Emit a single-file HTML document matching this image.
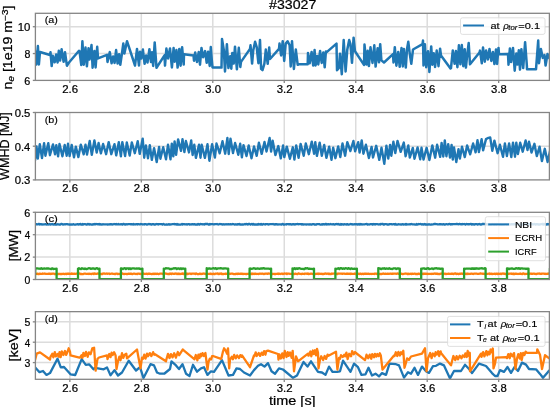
<!DOCTYPE html>
<html><head><meta charset="utf-8"><style>
html,body{margin:0;padding:0;width:550px;height:407px;overflow:hidden;background:#fff;}
svg text{font-family:"Liberation Sans", sans-serif;stroke:#000;stroke-width:0.22px;} svg text.sm{stroke-width:0.15px;}
</style></head><body>
<svg width="550" height="407" viewBox="0 0 550 407" style="position:absolute;left:0;top:0;will-change:transform"><rect width="550" height="407" fill="#fff"/><text x="269.04" y="9.30" font-size="12.60" textLength="47.26" lengthAdjust="spacingAndGlyphs" fill="#000">#33027</text><line x1="69.85" y1="13.3" x2="69.85" y2="80.4" stroke="#dcdcdc" stroke-width="1.5"/><line x1="141.32" y1="13.3" x2="141.32" y2="80.4" stroke="#dcdcdc" stroke-width="1.5"/><line x1="212.79" y1="13.3" x2="212.79" y2="80.4" stroke="#dcdcdc" stroke-width="1.5"/><line x1="284.26" y1="13.3" x2="284.26" y2="80.4" stroke="#dcdcdc" stroke-width="1.5"/><line x1="355.73" y1="13.3" x2="355.73" y2="80.4" stroke="#dcdcdc" stroke-width="1.5"/><line x1="427.20" y1="13.3" x2="427.20" y2="80.4" stroke="#dcdcdc" stroke-width="1.5"/><line x1="498.67" y1="13.3" x2="498.67" y2="80.4" stroke="#dcdcdc" stroke-width="1.5"/><line x1="35.4" y1="53.56" x2="549.4" y2="53.56" stroke="#dcdcdc" stroke-width="1.5"/><line x1="35.4" y1="26.72" x2="549.4" y2="26.72" stroke="#dcdcdc" stroke-width="1.5"/><clipPath id="c0"><rect x="35" y="13.3" width="514.5" height="67.10000000000001"/></clipPath><path d="M35.0,50.7 L36.3,64.6 L37.9,46.0 L38.9,64.5 L40.0,52.0 L50.0,55.0 L50.5,52.3 L51.7,66.1 L52.8,55.8 L54.7,62.3 L56.1,54.6 L57.6,62.4 L58.8,50.8 L60.1,60.5 L61.6,49.3 L63.6,61.8 L65.0,52.2 L66.9,65.7 L69.0,62.5 L79.0,50.7 L79.5,51.0 L81.3,65.0 L82.4,41.2 L83.8,64.7 L85.5,47.6 L86.9,66.3 L88.5,48.3 L89.5,59.6 L91.5,45.1 L92.6,67.7 L94.4,50.9 L95.6,67.5 L97.2,46.8 L98.0,58.4 L107.0,54.8 L107.5,62.0 L108.0,59.6 L109.8,52.1 L111.6,63.2 L113.1,56.5 L114.6,62.9 L116.1,50.1 L117.6,63.5 L119.1,54.2 L120.3,64.8 L122.1,52.5 L123.3,43.6 L124.4,53.5 L127.0,41.2 L135.0,65.5 L137.0,49.0 L139.0,65.5 L140.0,51.7 L141.3,58.5 L142.9,49.6 L144.6,63.8 L146.1,55.5 L147.5,62.5 L149.4,49.2 L151.0,62.0 L152.0,52.3 L153.2,65.9 L154.7,42.4 L156.5,67.8 L164.5,55.4 L165.0,65.6 L166.4,48.6 L168.0,58.4 L170.0,48.5 L171.9,67.4 L173.6,48.1 L174.6,61.7 L176.4,50.1 L177.6,67.6 L179.3,48.9 L180.6,65.7 L182.1,47.2 L183.7,64.6 L184.0,54.2 L193.5,55.4 L194.0,60.7 L195.2,52.5 L197.0,61.9 L198.7,52.1 L200.0,64.7 L201.5,47.9 L203.2,57.2 L205.1,51.1 L206.7,62.8 L208.1,51.7 L209.7,65.9 L210.8,47.1 L211.8,60.0 L212.5,67.4 L221.5,67.6 L222.0,38.9 L223.8,50.0 L225.0,71.4 L226.9,44.2 L228.4,68.0 L230.2,56.2 L231.3,68.7 L232.3,53.0 L233.7,63.6 L235.0,46.7 L236.9,69.3 L238.8,47.8 L240.3,67.0 L241.0,61.9 L250.0,48.9 L250.5,45.3 L252.1,63.6 L253.2,50.6 L255.1,41.8 L256.7,47.2 L258.4,63.2 L260.0,40.0 L261.1,68.9 L262.5,70.2 L264.4,63.6 L265.8,49.6 L267.7,63.8 L269.2,47.6 L270.0,59.0 L279.0,48.9 L279.5,43.5 L281.1,55.4 L282.7,41.2 L284.2,60.9 L285.7,43.6 L287.6,41.2 L289.6,45.3 L290.7,66.4 L292.0,41.2 L293.9,69.0 L295.8,49.5 L297.7,64.8 L298.6,64.3 L307.7,64.3 L308.0,52.9 L309.7,63.2 L311.6,51.9 L313.2,65.6 L314.6,50.1 L315.6,65.4 L317.2,56.1 L318.3,64.4 L320.1,51.0 L321.7,62.9 L323.3,52.5 L324.7,67.3 L325.9,51.4 L327.0,51.9 L336.5,43.6 L337.0,70.2 L338.9,67.9 L340.0,53.7 L341.8,74.3 L343.7,40.0 L345.6,71.4 L347.3,49.4 L349.2,40.0 L350.4,43.9 L352.0,62.8 L353.6,37.7 L355.0,51.3 L364.0,64.9 L364.5,44.5 L366.5,64.6 L367.7,50.8 L368.9,66.1 L370.5,47.3 L372.5,62.9 L374.3,45.3 L375.6,66.6 L377.6,48.3 L379.0,62.3 L380.2,44.2 L381.4,60.4 L384.0,62.5 L393.0,54.2 L393.5,62.5 L394.8,47.2 L396.4,65.7 L398.2,51.9 L399.7,66.8 L401.5,48.0 L402.8,66.5 L403.9,49.1 L405.8,67.6 L407.0,49.2 L408.3,41.8 L409.8,54.1 L411.3,63.8 L413.0,49.5 L422.5,44.2 L423.0,40.6 L423.5,65.5 L424.9,44.2 L426.2,67.2 L428.0,51.2 L429.4,72.0 L431.2,46.4 L432.4,64.7 L433.7,53.2 L435.1,67.0 L436.7,50.6 L438.5,66.2 L440.1,48.7 L441.0,55.4 L450.5,68.4 L451.0,68.0 L452.8,50.4 L454.6,63.8 L455.9,51.1 L457.4,67.2 L458.9,45.3 L460.4,64.3 L461.8,45.1 L463.3,66.2 L464.7,49.2 L465.9,67.6 L467.1,55.9 L468.7,43.0 L470.0,64.3 L479.5,52.5 L480.0,50.6 L481.8,63.3 L483.0,47.5 L484.8,61.7 L486.1,50.5 L487.9,59.4 L489.5,49.0 L491.3,60.9 L492.9,52.0 L494.4,64.0 L496.0,49.5 L497.1,63.9 L498.5,47.9 L499.0,54.2 L508.0,54.0 L508.5,64.7 L509.9,48.4 L511.1,62.1 L513.0,47.9 L514.7,70.7 L516.3,53.5 L517.4,64.6 L518.8,50.3 L520.0,69.6 L521.4,49.2 L523.2,68.1 L525.1,42.2 L526.9,66.2 L527.0,69.3 L536.0,69.3 L538.2,40.5 L539.0,63.2 L540.9,49.1 L542.8,57.9 L544.5,55.1 L545.6,65.6 L547.5,54.0 L549.3,58.4 L550.5,53.9" fill="none" stroke="#1f77b4" stroke-width="2.5" stroke-linejoin="round" clip-path="url(#c0)"/><rect x="35.4" y="13.3" width="514.0" height="67.10000000000001" fill="none" stroke="#858585" stroke-width="1.3"/><line x1="69.85" y1="80.4" x2="69.85" y2="83.0" stroke="#858585" stroke-width="1.3"/><text x="62.18" y="92.70" font-size="10.89" textLength="15.88" lengthAdjust="spacingAndGlyphs" fill="#000">2.6</text><line x1="141.32" y1="80.4" x2="141.32" y2="83.0" stroke="#858585" stroke-width="1.3"/><text x="133.65" y="92.70" font-size="10.89" textLength="15.86" lengthAdjust="spacingAndGlyphs" fill="#000">2.8</text><line x1="212.79" y1="80.4" x2="212.79" y2="83.0" stroke="#858585" stroke-width="1.3"/><text x="205.26" y="92.70" font-size="10.89" textLength="15.67" lengthAdjust="spacingAndGlyphs" fill="#000">3.0</text><line x1="284.26" y1="80.4" x2="284.26" y2="83.0" stroke="#858585" stroke-width="1.3"/><text x="276.73" y="92.70" font-size="10.89" textLength="15.80" lengthAdjust="spacingAndGlyphs" fill="#000">3.2</text><line x1="355.73" y1="80.4" x2="355.73" y2="83.0" stroke="#858585" stroke-width="1.3"/><text x="348.20" y="92.70" font-size="10.89" textLength="15.55" lengthAdjust="spacingAndGlyphs" fill="#000">3.4</text><line x1="427.20" y1="80.4" x2="427.20" y2="83.0" stroke="#858585" stroke-width="1.3"/><text x="419.67" y="92.70" font-size="10.89" textLength="15.73" lengthAdjust="spacingAndGlyphs" fill="#000">3.6</text><line x1="498.67" y1="80.4" x2="498.67" y2="83.0" stroke="#858585" stroke-width="1.3"/><text x="491.14" y="92.70" font-size="10.89" textLength="15.72" lengthAdjust="spacingAndGlyphs" fill="#000">3.8</text><line x1="32.8" y1="80.40" x2="35.4" y2="80.40" stroke="#858585" stroke-width="1.3"/><text x="24.35" y="84.70" font-size="11.03" textLength="6.03" lengthAdjust="spacingAndGlyphs" fill="#000">6</text><line x1="32.8" y1="53.56" x2="35.4" y2="53.56" stroke="#858585" stroke-width="1.3"/><text x="24.44" y="57.86" font-size="11.03" textLength="5.92" lengthAdjust="spacingAndGlyphs" fill="#000">8</text><line x1="32.8" y1="26.72" x2="35.4" y2="26.72" stroke="#858585" stroke-width="1.3"/><text x="17.68" y="31.02" font-size="11.03" textLength="12.66" lengthAdjust="spacingAndGlyphs" fill="#000">10</text><text x="44.73" y="23.30" font-size="9.60" textLength="13.13" lengthAdjust="spacingAndGlyphs" fill="#000" class="sm">(a)</text><line x1="69.85" y1="112.5" x2="69.85" y2="179.9" stroke="#dcdcdc" stroke-width="1.5"/><line x1="141.32" y1="112.5" x2="141.32" y2="179.9" stroke="#dcdcdc" stroke-width="1.5"/><line x1="212.79" y1="112.5" x2="212.79" y2="179.9" stroke="#dcdcdc" stroke-width="1.5"/><line x1="284.26" y1="112.5" x2="284.26" y2="179.9" stroke="#dcdcdc" stroke-width="1.5"/><line x1="355.73" y1="112.5" x2="355.73" y2="179.9" stroke="#dcdcdc" stroke-width="1.5"/><line x1="427.20" y1="112.5" x2="427.20" y2="179.9" stroke="#dcdcdc" stroke-width="1.5"/><line x1="498.67" y1="112.5" x2="498.67" y2="179.9" stroke="#dcdcdc" stroke-width="1.5"/><line x1="35.4" y1="146.20" x2="549.4" y2="146.20" stroke="#dcdcdc" stroke-width="1.5"/><clipPath id="c1"><rect x="35" y="112.5" width="514.5" height="67.4"/></clipPath><path d="M35.0,160.5 L36.5,146.5 L37.8,158.6 L39.8,144.2 L42.0,158.1 L44.1,143.1 L45.4,155.7 L48.3,143.1 L49.9,155.2 L53.0,144.4 L55.0,154.3 L56.3,145.2 L58.1,156.4 L59.5,143.9 L62.4,156.3 L64.7,144.9 L66.7,155.7 L68.0,143.8 L69.6,156.0 L71.7,145.0 L74.0,157.4 L75.8,146.6 L78.4,157.1 L80.8,144.6 L83.7,154.3 L85.5,144.6 L87.0,154.5 L89.7,141.0 L91.8,154.9 L94.4,140.5 L96.7,152.5 L98.6,142.9 L100.9,153.4 L103.1,144.0 L106.1,154.2 L108.7,142.1 L111.3,154.2 L114.5,144.2 L116.2,155.4 L118.8,142.2 L120.9,156.3 L122.3,142.1 L125.1,156.0 L126.8,142.5 L129.7,155.6 L131.8,142.4 L134.8,153.2 L137.7,141.2 L139.7,153.9 L142.7,138.6 L144.2,157.7 L145.9,145.4 L148.0,158.2 L149.8,145.2 L151.8,159.9 L154.1,148.1 L156.7,162.0 L159.1,147.0 L160.4,158.7 L163.2,147.2 L166.0,159.3 L168.0,144.7 L170.5,159.3 L171.8,143.7 L173.3,156.4 L174.6,141.4 L176.1,154.9 L178.1,139.4 L181.0,150.9 L182.5,139.1 L184.4,152.0 L185.9,141.0 L189.0,152.4 L191.2,140.4 L192.6,155.0 L194.3,144.8 L195.9,157.9 L199.0,144.7 L200.5,157.7 L201.7,144.8 L204.9,157.9 L207.5,144.3 L209.4,160.7 L212.1,144.3 L214.9,157.5 L216.5,143.5 L219.7,153.3 L222.5,141.2 L225.2,153.7 L227.4,138.0 L228.7,154.0 L230.5,138.7 L233.0,153.0 L235.1,143.0 L238.3,154.8 L240.2,143.8 L241.9,157.4 L243.5,145.1 L246.5,156.0 L248.7,145.5 L251.5,158.3 L254.0,146.5 L256.7,155.8 L258.9,142.7 L261.7,153.9 L264.5,142.0 L266.5,151.5 L269.6,138.0 L271.1,151.6 L272.6,140.6 L275.4,155.1 L278.3,146.1 L280.8,158.4 L283.1,145.5 L284.3,157.1 L286.8,146.6 L289.9,158.8 L292.8,147.3 L294.4,159.6 L296.2,145.5 L298.6,157.8 L300.6,143.9 L303.7,155.8 L305.8,143.5 L308.8,154.2 L311.8,141.6 L314.1,153.7 L315.3,142.2 L316.9,155.9 L319.7,142.6 L321.8,155.7 L324.2,144.9 L326.4,157.9 L329.2,146.6 L331.5,159.8 L333.2,147.7 L335.4,158.2 L338.2,146.4 L340.3,157.0 L342.5,143.5 L345.1,155.7 L347.3,142.1 L350.4,151.0 L353.4,141.0 L355.1,151.3 L358.2,142.2 L359.6,152.5 L361.7,140.4 L363.4,153.7 L365.9,144.7 L368.9,158.0 L371.6,146.9 L373.0,157.5 L376.2,145.8 L379.3,159.9 L381.5,147.8 L384.3,163.8 L386.4,145.7 L388.3,158.6 L390.1,144.9 L391.3,155.7 L393.4,141.8 L395.3,153.1 L397.5,140.9 L400.7,151.8 L403.8,142.6 L405.6,156.3 L408.3,145.5 L409.8,157.6 L412.8,147.9 L414.5,158.8 L417.6,147.4 L420.2,159.3 L421.5,147.8 L423.5,159.6 L426.6,147.8 L429.4,160.0 L432.3,145.4 L435.2,157.7 L437.1,144.8 L440.2,156.9 L441.6,142.9 L443.3,156.5 L444.8,140.4 L446.4,156.2 L448.2,144.1 L450.0,157.5 L451.6,144.9 L452.8,159.6 L454.0,147.4 L456.3,162.0 L458.5,149.1 L459.9,158.6 L462.0,146.8 L464.8,157.1 L467.1,145.5 L470.2,154.3 L473.1,143.5 L475.6,152.3 L477.5,140.2 L478.9,152.0 L481.6,139.2 L483.1,150.4 L486.0,139.1 L488.5,137.8 L490.2,137.4 L492.3,150.8 L494.4,140.6 L497.6,153.2 L499.9,144.7 L503.0,156.8 L504.9,143.5 L506.9,156.1 L509.1,143.5 L511.3,157.0 L513.0,142.7 L515.0,156.7 L516.3,142.6 L517.9,154.1 L520.2,142.7 L522.7,151.7 L525.6,140.5 L527.5,150.1 L529.0,141.7 L531.5,152.6 L534.4,143.8 L536.8,156.1 L539.6,146.7 L541.9,161.1 L544.8,148.8 L547.6,162.0 L550.6,148.5" fill="none" stroke="#1f77b4" stroke-width="2.4" stroke-linejoin="round" clip-path="url(#c1)"/><rect x="35.4" y="112.5" width="514.0" height="67.4" fill="none" stroke="#858585" stroke-width="1.3"/><line x1="69.85" y1="179.9" x2="69.85" y2="182.5" stroke="#858585" stroke-width="1.3"/><text x="62.18" y="192.20" font-size="10.89" textLength="15.88" lengthAdjust="spacingAndGlyphs" fill="#000">2.6</text><line x1="141.32" y1="179.9" x2="141.32" y2="182.5" stroke="#858585" stroke-width="1.3"/><text x="133.65" y="192.20" font-size="10.89" textLength="15.86" lengthAdjust="spacingAndGlyphs" fill="#000">2.8</text><line x1="212.79" y1="179.9" x2="212.79" y2="182.5" stroke="#858585" stroke-width="1.3"/><text x="205.26" y="192.20" font-size="10.89" textLength="15.67" lengthAdjust="spacingAndGlyphs" fill="#000">3.0</text><line x1="284.26" y1="179.9" x2="284.26" y2="182.5" stroke="#858585" stroke-width="1.3"/><text x="276.73" y="192.20" font-size="10.89" textLength="15.80" lengthAdjust="spacingAndGlyphs" fill="#000">3.2</text><line x1="355.73" y1="179.9" x2="355.73" y2="182.5" stroke="#858585" stroke-width="1.3"/><text x="348.20" y="192.20" font-size="10.89" textLength="15.55" lengthAdjust="spacingAndGlyphs" fill="#000">3.4</text><line x1="427.20" y1="179.9" x2="427.20" y2="182.5" stroke="#858585" stroke-width="1.3"/><text x="419.67" y="192.20" font-size="10.89" textLength="15.73" lengthAdjust="spacingAndGlyphs" fill="#000">3.6</text><line x1="498.67" y1="179.9" x2="498.67" y2="182.5" stroke="#858585" stroke-width="1.3"/><text x="491.14" y="192.20" font-size="10.89" textLength="15.72" lengthAdjust="spacingAndGlyphs" fill="#000">3.8</text><line x1="32.8" y1="179.90" x2="35.4" y2="179.90" stroke="#858585" stroke-width="1.3"/><text x="14.66" y="184.20" font-size="11.03" textLength="15.74" lengthAdjust="spacingAndGlyphs" fill="#000">0.3</text><line x1="32.8" y1="146.20" x2="35.4" y2="146.20" stroke="#858585" stroke-width="1.3"/><text x="14.66" y="150.50" font-size="11.03" textLength="15.56" lengthAdjust="spacingAndGlyphs" fill="#000">0.4</text><line x1="32.8" y1="112.50" x2="35.4" y2="112.50" stroke="#858585" stroke-width="1.3"/><text x="14.66" y="116.80" font-size="11.03" textLength="15.72" lengthAdjust="spacingAndGlyphs" fill="#000">0.5</text><text x="44.73" y="122.50" font-size="9.60" textLength="13.13" lengthAdjust="spacingAndGlyphs" fill="#000" class="sm">(b)</text><line x1="69.85" y1="212.3" x2="69.85" y2="279.5" stroke="#dcdcdc" stroke-width="1.5"/><line x1="141.32" y1="212.3" x2="141.32" y2="279.5" stroke="#dcdcdc" stroke-width="1.5"/><line x1="212.79" y1="212.3" x2="212.79" y2="279.5" stroke="#dcdcdc" stroke-width="1.5"/><line x1="284.26" y1="212.3" x2="284.26" y2="279.5" stroke="#dcdcdc" stroke-width="1.5"/><line x1="355.73" y1="212.3" x2="355.73" y2="279.5" stroke="#dcdcdc" stroke-width="1.5"/><line x1="427.20" y1="212.3" x2="427.20" y2="279.5" stroke="#dcdcdc" stroke-width="1.5"/><line x1="498.67" y1="212.3" x2="498.67" y2="279.5" stroke="#dcdcdc" stroke-width="1.5"/><line x1="35.4" y1="257.10" x2="549.4" y2="257.10" stroke="#dcdcdc" stroke-width="1.5"/><line x1="35.4" y1="234.70" x2="549.4" y2="234.70" stroke="#dcdcdc" stroke-width="1.5"/><clipPath id="c2"><rect x="35" y="212.3" width="514.5" height="67.19999999999999"/></clipPath><path d="M35.0,224.1 L35.7,224.3 L36.4,224.2 L37.1,224.4 L37.8,224.4 L38.5,224.0 L39.2,224.0 L39.9,224.5 L40.6,224.1 L41.3,224.1 L42.0,224.6 L42.7,224.3 L43.4,224.5 L44.1,224.3 L44.8,224.4 L45.5,224.1 L46.2,224.4 L46.9,224.6 L47.6,224.3 L48.3,224.5 L49.0,224.4 L49.7,224.0 L50.4,224.5 L51.1,224.4 L51.8,224.2 L52.5,224.0 L53.2,224.6 L53.9,224.3 L54.6,224.5 L55.3,224.6 L56.0,224.4 L56.7,224.6 L57.4,224.2 L58.1,224.5 L58.8,224.3 L59.5,224.6 L60.2,224.6 L60.9,224.0 L61.6,224.0 L62.3,224.1 L63.0,224.6 L63.7,224.3 L64.4,224.4 L65.1,224.2 L65.8,224.3 L66.5,224.2 L67.2,224.2 L67.9,224.4 L68.6,224.4 L69.3,224.6 L70.0,224.4 L70.7,224.6 L71.4,224.5 L72.1,224.6 L72.8,224.4 L73.5,224.1 L74.2,224.6 L74.9,224.6 L75.6,224.6 L76.3,224.3 L77.0,224.4 L77.7,224.1 L78.4,224.5 L79.1,224.4 L79.8,224.1 L80.5,224.0 L81.2,224.5 L81.9,224.6 L82.6,224.0 L83.3,224.5 L84.0,224.2 L84.7,224.1 L85.4,224.2 L86.1,224.5 L86.8,224.6 L87.5,224.0 L88.2,224.4 L88.9,224.0 L89.6,224.5 L90.3,224.2 L91.0,224.6 L91.7,224.6 L92.4,224.3 L93.1,224.6 L93.8,224.2 L94.5,224.0 L95.2,224.4 L95.9,224.0 L96.6,224.1 L97.3,224.2 L98.0,224.4 L98.7,224.1 L99.4,224.0 L100.1,224.6 L100.8,224.2 L101.5,224.6 L102.2,224.6 L102.9,224.2 L103.6,224.3 L104.3,224.3 L105.0,224.4 L105.7,224.4 L106.4,224.3 L107.1,224.4 L107.8,224.6 L108.5,224.3 L109.2,224.3 L109.9,224.5 L110.6,224.1 L111.3,224.2 L112.0,224.6 L112.7,224.3 L113.4,224.3 L114.1,224.0 L114.8,224.2 L115.5,224.4 L116.2,224.0 L116.9,224.4 L117.6,224.4 L118.3,224.0 L119.0,224.4 L119.7,224.3 L120.4,224.4 L121.1,224.2 L121.8,224.4 L122.5,224.5 L123.2,224.0 L123.9,224.0 L124.6,224.4 L125.3,224.6 L126.0,224.1 L126.7,224.3 L127.4,224.4 L128.1,224.2 L128.8,224.2 L129.5,224.2 L130.2,224.2 L130.9,224.4 L131.6,224.2 L132.3,224.2 L133.0,224.5 L133.7,224.0 L134.4,224.3 L135.1,224.5 L135.8,224.2 L136.5,224.1 L137.2,224.5 L137.9,224.1 L138.6,224.1 L139.3,224.3 L140.0,224.4 L140.7,224.0 L141.4,224.2 L142.1,224.2 L142.8,224.5 L143.5,224.3 L144.2,224.5 L144.9,224.1 L145.6,224.2 L146.3,224.4 L147.0,224.6 L147.7,224.3 L148.4,224.1 L149.1,224.0 L149.8,224.3 L150.5,224.1 L151.2,224.5 L151.9,224.5 L152.6,224.1 L153.3,224.1 L154.0,224.5 L154.7,224.4 L155.4,224.5 L156.1,224.2 L156.8,224.0 L157.5,224.2 L158.2,224.5 L158.9,224.1 L159.6,224.2 L160.3,224.2 L161.0,224.2 L161.7,224.2 L162.4,224.6 L163.1,224.1 L163.8,224.0 L164.5,224.6 L165.2,224.6 L165.9,224.6 L166.6,224.3 L167.3,224.6 L168.0,224.6 L168.7,224.1 L169.4,224.5 L170.1,224.5 L170.8,224.4 L171.5,224.3 L172.2,224.2 L172.9,224.2 L173.6,224.1 L174.3,224.0 L175.0,224.4 L175.7,224.2 L176.4,224.5 L177.1,224.0 L177.8,224.6 L178.5,224.4 L179.2,224.6 L179.9,224.6 L180.6,224.6 L181.3,224.4 L182.0,224.0 L182.7,224.5 L183.4,224.1 L184.1,224.2 L184.8,224.4 L185.5,224.3 L186.2,224.2 L186.9,224.6 L187.6,224.4 L188.3,224.2 L189.0,224.1 L189.7,224.6 L190.4,224.3 L191.1,224.5 L191.8,224.2 L192.5,224.1 L193.2,224.3 L193.9,224.5 L194.6,224.1 L195.3,224.5 L196.0,224.6 L196.7,224.5 L197.4,224.5 L198.1,224.0 L198.8,224.4 L199.5,224.6 L200.2,224.0 L200.9,224.1 L201.6,224.1 L202.3,224.3 L203.0,224.2 L203.7,224.3 L204.4,224.5 L205.1,224.0 L205.8,224.0 L206.5,224.0 L207.2,224.0 L207.9,224.0 L208.6,224.6 L209.3,224.5 L210.0,224.0 L210.7,224.3 L211.4,224.2 L212.1,224.2 L212.8,224.2 L213.5,224.4 L214.2,224.4 L214.9,224.2 L215.6,224.1 L216.3,224.2 L217.0,224.0 L217.7,224.3 L218.4,224.5 L219.1,224.2 L219.8,224.0 L220.5,224.1 L221.2,224.2 L221.9,224.4 L222.6,224.5 L223.3,224.2 L224.0,224.5 L224.7,224.4 L225.4,224.3 L226.1,224.2 L226.8,224.3 L227.5,224.4 L228.2,224.2 L228.9,224.4 L229.6,224.3 L230.3,224.1 L231.0,224.3 L231.7,224.4 L232.4,224.0 L233.1,224.2 L233.8,224.2 L234.5,224.6 L235.2,224.6 L235.9,224.2 L236.6,224.6 L237.3,224.5 L238.0,224.1 L238.7,224.3 L239.4,224.0 L240.1,224.5 L240.8,224.4 L241.5,224.6 L242.2,224.5 L242.9,224.4 L243.6,224.5 L244.3,224.3 L245.0,224.0 L245.7,224.4 L246.4,224.0 L247.1,224.1 L247.8,224.5 L248.5,224.0 L249.2,224.0 L249.9,224.0 L250.6,224.6 L251.3,224.1 L252.0,224.0 L252.7,224.5 L253.4,224.0 L254.1,224.5 L254.8,224.4 L255.5,224.5 L256.2,224.6 L256.9,224.4 L257.6,224.5 L258.3,224.0 L259.0,224.5 L259.7,224.3 L260.4,224.5 L261.1,224.0 L261.8,224.5 L262.5,224.6 L263.2,224.0 L263.9,224.2 L264.6,224.3 L265.3,224.5 L266.0,224.1 L266.7,224.1 L267.4,224.1 L268.1,224.4 L268.8,224.5 L269.5,224.2 L270.2,224.2 L270.9,224.2 L271.6,224.2 L272.3,224.2 L273.0,224.0 L273.7,224.3 L274.4,224.6 L275.1,224.2 L275.8,224.5 L276.5,224.1 L277.2,224.4 L277.9,224.5 L278.6,224.4 L279.3,224.3 L280.0,224.3 L280.7,224.4 L281.4,224.6 L282.1,224.1 L282.8,224.0 L283.5,224.5 L284.2,224.6 L284.9,224.3 L285.6,224.3 L286.3,224.5 L287.0,224.1 L287.7,224.1 L288.4,224.1 L289.1,224.4 L289.8,224.2 L290.5,224.1 L291.2,224.4 L291.9,224.6 L292.6,224.2 L293.3,224.4 L294.0,224.2 L294.7,224.5 L295.4,224.4 L296.1,224.1 L296.8,224.1 L297.5,224.0 L298.2,224.3 L298.9,224.2 L299.6,224.1 L300.3,224.2 L301.0,224.2 L301.7,224.5 L302.4,224.1 L303.1,224.6 L303.8,224.3 L304.5,224.4 L305.2,224.3 L305.9,224.5 L306.6,224.5 L307.3,224.3 L308.0,224.3 L308.7,224.5 L309.4,224.5 L310.1,224.2 L310.8,224.5 L311.5,224.6 L312.2,224.3 L312.9,224.1 L313.6,224.1 L314.3,224.5 L315.0,224.4 L315.7,224.6 L316.4,224.5 L317.1,224.1 L317.8,224.1 L318.5,224.1 L319.2,224.1 L319.9,224.4 L320.6,224.6 L321.3,224.6 L322.0,224.1 L322.7,224.6 L323.4,224.2 L324.1,224.2 L324.8,224.5 L325.5,224.0 L326.2,224.0 L326.9,224.5 L327.6,224.2 L328.3,224.2 L329.0,224.4 L329.7,224.4 L330.4,224.0 L331.1,224.2 L331.8,224.3 L332.5,224.3 L333.2,224.1 L333.9,224.4 L334.6,224.6 L335.3,224.2 L336.0,224.3 L336.7,224.0 L337.4,224.1 L338.1,224.4 L338.8,224.0 L339.5,224.6 L340.2,224.6 L340.9,224.0 L341.6,224.6 L342.3,224.2 L343.0,224.5 L343.7,224.5 L344.4,224.2 L345.1,224.4 L345.8,224.4 L346.5,224.5 L347.2,224.1 L347.9,224.5 L348.6,224.6 L349.3,224.4 L350.0,224.3 L350.7,224.0 L351.4,224.3 L352.1,224.2 L352.8,224.5 L353.5,224.4 L354.2,224.3 L354.9,224.1 L355.6,224.4 L356.3,224.4 L357.0,224.1 L357.7,224.6 L358.4,224.4 L359.1,224.0 L359.8,224.6 L360.5,224.0 L361.2,224.2 L361.9,224.5 L362.6,224.4 L363.3,224.3 L364.0,224.4 L364.7,224.3 L365.4,224.2 L366.1,224.1 L366.8,224.0 L367.5,224.5 L368.2,224.5 L368.9,224.3 L369.6,224.5 L370.3,224.2 L371.0,224.1 L371.7,224.2 L372.4,224.6 L373.1,224.0 L373.8,224.3 L374.5,224.1 L375.2,224.5 L375.9,224.2 L376.6,224.2 L377.3,224.2 L378.0,224.3 L378.7,224.5 L379.4,224.2 L380.1,224.5 L380.8,224.0 L381.5,224.1 L382.2,224.0 L382.9,224.0 L383.6,224.5 L384.3,224.5 L385.0,224.1 L385.7,224.1 L386.4,224.2 L387.1,224.5 L387.8,224.5 L388.5,224.5 L389.2,224.4 L389.9,224.1 L390.6,224.2 L391.3,224.1 L392.0,224.3 L392.7,224.3 L393.4,224.1 L394.1,224.1 L394.8,224.5 L395.5,224.0 L396.2,224.5 L396.9,224.6 L397.6,224.6 L398.3,224.2 L399.0,224.3 L399.7,224.4 L400.4,224.4 L401.1,224.6 L401.8,224.4 L402.5,224.2 L403.2,224.6 L403.9,224.3 L404.6,224.4 L405.3,224.5 L406.0,224.0 L406.7,224.5 L407.4,224.4 L408.1,224.3 L408.8,224.3 L409.5,224.3 L410.2,224.1 L410.9,224.3 L411.6,224.0 L412.3,224.3 L413.0,224.4 L413.7,224.3 L414.4,224.3 L415.1,224.6 L415.8,224.6 L416.5,224.0 L417.2,224.5 L417.9,224.4 L418.6,224.0 L419.3,224.2 L420.0,224.1 L420.7,224.0 L421.4,224.3 L422.1,224.6 L422.8,224.2 L423.5,224.6 L424.2,224.4 L424.9,224.0 L425.6,224.6 L426.3,224.4 L427.0,224.6 L427.7,224.5 L428.4,224.5 L429.1,224.2 L429.8,224.5 L430.5,224.6 L431.2,224.6 L431.9,224.3 L432.6,224.5 L433.3,224.3 L434.0,224.0 L434.7,224.0 L435.4,224.0 L436.1,224.1 L436.8,224.1 L437.5,224.3 L438.2,224.4 L438.9,224.3 L439.6,224.2 L440.3,224.4 L441.0,224.2 L441.7,224.3 L442.4,224.5 L443.1,224.2 L443.8,224.1 L444.5,224.6 L445.2,224.5 L445.9,224.2 L446.6,224.2 L447.3,224.3 L448.0,224.4 L448.7,224.1 L449.4,224.0 L450.1,224.1 L450.8,224.5 L451.5,224.1 L452.2,224.3 L452.9,224.1 L453.6,224.1 L454.3,224.1 L455.0,224.2 L455.7,224.1 L456.4,224.0 L457.1,224.0 L457.8,224.1 L458.5,224.3 L459.2,224.0 L459.9,224.0 L460.6,224.3 L461.3,224.2 L462.0,224.4 L462.7,224.0 L463.4,224.2 L464.1,224.2 L464.8,224.0 L465.5,224.6 L466.2,224.1 L466.9,224.0 L467.6,224.3 L468.3,224.1 L469.0,224.4 L469.7,224.2 L470.4,224.0 L471.1,224.0 L471.8,224.5 L472.5,224.1 L473.2,224.5 L473.9,224.3 L474.6,224.6 L475.3,224.2 L476.0,224.1 L476.7,224.1 L477.4,224.5 L478.1,224.4 L478.8,224.2 L479.5,224.0 L480.2,224.4 L480.9,224.6 L481.6,224.4 L482.3,224.0 L483.0,224.0 L483.7,224.0 L484.4,224.1 L485.1,224.0 L485.8,224.0 L486.5,224.4 L487.2,224.6 L487.9,224.1 L488.6,224.6 L489.3,224.3 L490.0,224.5 L490.7,224.6 L491.4,224.6 L492.1,224.0 L492.8,224.2 L493.5,224.4 L494.2,224.6 L494.9,224.0 L495.6,224.2 L496.3,224.5 L497.0,224.0 L497.7,224.2 L498.4,224.2 L499.1,224.4 L499.8,224.6 L500.5,224.1 L501.2,224.5 L501.9,224.5 L502.6,224.5 L503.3,224.3 L504.0,224.6 L504.7,224.2 L505.4,224.2 L506.1,224.1 L506.8,224.5 L507.5,224.3 L508.2,224.1 L508.9,224.1 L509.6,224.5 L510.3,224.4 L511.0,224.4 L511.7,224.2 L512.4,224.3 L513.1,224.1 L513.8,224.4 L514.5,224.0 L515.2,224.3 L515.9,224.5 L516.6,224.4 L517.3,224.0 L518.0,224.1 L518.7,224.5 L519.4,224.4 L520.1,224.6 L520.8,224.6 L521.5,224.3 L522.2,224.6 L522.9,224.5 L523.6,224.2 L524.3,224.2 L525.0,224.0 L525.7,224.2 L526.4,224.6 L527.1,224.0 L527.8,224.3 L528.5,224.0 L529.2,224.0 L529.9,224.4 L530.6,224.1 L531.3,224.0 L532.0,224.1 L532.7,224.4 L533.4,224.4 L534.1,224.0 L534.8,224.1 L535.5,224.6 L536.2,224.1 L536.9,224.3 L537.6,224.2 L538.3,224.5 L539.0,224.4 L539.7,224.5 L540.4,224.3 L541.1,224.1 L541.8,224.1 L542.5,224.0 L543.2,224.5 L543.9,224.0 L544.6,224.0 L545.3,224.6 L546.0,224.1 L546.7,224.6 L547.4,224.0 L548.1,224.3 L548.8,224.1 L549.5,224.5 L550.2,224.4 L550.9,224.4 L551.6,224.5 L552.3,224.6" fill="none" stroke="#1f77b4" stroke-width="2.3" stroke-linejoin="round" clip-path="url(#c2)"/><path d="M35.0,273.7 L35.7,273.9 L36.4,273.8 L37.1,273.6 L37.8,274.0 L38.5,273.9 L39.2,274.0 L39.9,273.6 L40.6,273.8 L41.3,273.8 L42.0,273.9 L42.7,273.5 L43.4,273.7 L44.1,273.8 L44.8,273.5 L45.5,273.8 L46.2,273.9 L46.9,273.8 L47.6,273.9 L48.3,273.9 L49.0,273.6 L49.7,273.7 L50.4,274.1 L51.1,273.7 L51.8,273.8 L52.5,273.6 L53.2,273.6 L53.9,273.6 L54.6,274.1 L55.3,273.9 L56.0,274.0 L56.7,274.1 L57.4,273.9 L58.1,274.1 L58.8,273.8 L59.5,273.8 L60.2,274.1 L60.9,274.0 L61.6,274.1 L62.3,273.8 L63.0,274.0 L63.7,273.7 L64.4,274.1 L65.1,274.1 L65.8,273.7 L66.5,274.1 L67.2,273.6 L67.9,273.6 L68.6,273.9 L69.3,273.7 L70.0,273.8 L70.7,273.9 L71.4,273.5 L72.1,273.9 L72.8,273.7 L73.5,273.8 L74.2,273.7 L74.9,273.9 L75.6,273.9 L76.3,273.7 L77.0,273.6 L77.7,273.7 L78.4,273.7 L79.1,273.5 L79.8,273.6 L80.5,274.0 L81.2,273.9 L81.9,274.1 L82.6,274.1 L83.3,274.0 L84.0,273.7 L84.7,273.6 L85.4,273.7 L86.1,273.8 L86.8,273.8 L87.5,273.8 L88.2,273.7 L88.9,274.0 L89.6,273.7 L90.3,273.8 L91.0,274.0 L91.7,274.0 L92.4,273.7 L93.1,273.6 L93.8,274.0 L94.5,273.5 L95.2,273.6 L95.9,273.8 L96.6,273.8 L97.3,273.6 L98.0,273.5 L98.7,273.6 L99.4,274.0 L100.1,273.8 L100.8,274.1 L101.5,274.0 L102.2,274.1 L102.9,273.5 L103.6,273.6 L104.3,273.5 L105.0,273.8 L105.7,273.7 L106.4,273.5 L107.1,273.8 L107.8,273.6 L108.5,273.7 L109.2,273.6 L109.9,274.0 L110.6,273.8 L111.3,273.7 L112.0,273.5 L112.7,273.8 L113.4,273.9 L114.1,273.9 L114.8,274.0 L115.5,274.0 L116.2,273.6 L116.9,273.6 L117.6,274.0 L118.3,274.0 L119.0,273.8 L119.7,274.0 L120.4,273.8 L121.1,273.7 L121.8,273.6 L122.5,273.5 L123.2,273.9 L123.9,274.0 L124.6,274.0 L125.3,273.8 L126.0,273.9 L126.7,274.1 L127.4,274.0 L128.1,273.9 L128.8,273.7 L129.5,273.8 L130.2,273.6 L130.9,273.6 L131.6,273.9 L132.3,274.1 L133.0,273.8 L133.7,273.7 L134.4,273.7 L135.1,273.8 L135.8,274.0 L136.5,273.8 L137.2,274.1 L137.9,273.6 L138.6,273.7 L139.3,273.8 L140.0,273.7 L140.7,274.0 L141.4,274.0 L142.1,274.1 L142.8,273.9 L143.5,273.5 L144.2,273.8 L144.9,273.8 L145.6,273.8 L146.3,273.7 L147.0,273.9 L147.7,274.0 L148.4,273.6 L149.1,273.9 L149.8,273.7 L150.5,273.8 L151.2,274.0 L151.9,274.1 L152.6,273.9 L153.3,273.6 L154.0,274.1 L154.7,273.6 L155.4,273.7 L156.1,274.0 L156.8,273.7 L157.5,273.7 L158.2,274.1 L158.9,274.1 L159.6,273.7 L160.3,273.7 L161.0,273.7 L161.7,273.6 L162.4,273.7 L163.1,274.1 L163.8,273.5 L164.5,273.6 L165.2,273.6 L165.9,273.5 L166.6,273.8 L167.3,273.9 L168.0,274.0 L168.7,273.9 L169.4,274.0 L170.1,273.5 L170.8,273.7 L171.5,274.1 L172.2,273.5 L172.9,273.7 L173.6,273.8 L174.3,273.7 L175.0,273.8 L175.7,273.5 L176.4,273.6 L177.1,274.1 L177.8,273.6 L178.5,274.0 L179.2,273.6 L179.9,274.1 L180.6,273.9 L181.3,273.9 L182.0,273.6 L182.7,273.5 L183.4,274.0 L184.1,273.6 L184.8,273.6 L185.5,274.0 L186.2,274.0 L186.9,273.5 L187.6,274.1 L188.3,273.8 L189.0,273.7 L189.7,273.6 L190.4,273.7 L191.1,274.1 L191.8,273.7 L192.5,273.6 L193.2,273.6 L193.9,273.6 L194.6,273.7 L195.3,274.0 L196.0,273.5 L196.7,273.6 L197.4,274.1 L198.1,274.1 L198.8,274.1 L199.5,273.6 L200.2,273.7 L200.9,274.1 L201.6,273.8 L202.3,273.9 L203.0,273.7 L203.7,273.5 L204.4,273.7 L205.1,273.9 L205.8,274.0 L206.5,273.8 L207.2,273.8 L207.9,273.8 L208.6,273.8 L209.3,273.8 L210.0,274.0 L210.7,273.6 L211.4,273.9 L212.1,274.1 L212.8,274.0 L213.5,273.6 L214.2,274.1 L214.9,274.0 L215.6,273.6 L216.3,273.7 L217.0,273.6 L217.7,273.5 L218.4,274.1 L219.1,273.7 L219.8,274.0 L220.5,273.6 L221.2,273.5 L221.9,274.0 L222.6,274.0 L223.3,274.1 L224.0,273.9 L224.7,273.8 L225.4,274.0 L226.1,273.6 L226.8,273.8 L227.5,273.8 L228.2,273.6 L228.9,273.9 L229.6,273.7 L230.3,273.8 L231.0,273.7 L231.7,273.7 L232.4,273.7 L233.1,273.9 L233.8,274.1 L234.5,274.1 L235.2,274.0 L235.9,274.0 L236.6,273.7 L237.3,274.1 L238.0,273.7 L238.7,273.6 L239.4,273.8 L240.1,273.9 L240.8,273.7 L241.5,273.9 L242.2,273.7 L242.9,274.1 L243.6,273.8 L244.3,273.8 L245.0,273.8 L245.7,274.0 L246.4,274.1 L247.1,273.8 L247.8,273.8 L248.5,273.9 L249.2,273.5 L249.9,273.8 L250.6,274.0 L251.3,274.0 L252.0,273.5 L252.7,274.0 L253.4,273.7 L254.1,274.1 L254.8,273.7 L255.5,273.6 L256.2,273.8 L256.9,274.0 L257.6,273.8 L258.3,274.0 L259.0,273.9 L259.7,273.7 L260.4,273.7 L261.1,273.8 L261.8,273.7 L262.5,273.7 L263.2,273.9 L263.9,274.0 L264.6,273.9 L265.3,273.6 L266.0,273.6 L266.7,273.7 L267.4,273.9 L268.1,273.6 L268.8,273.5 L269.5,273.7 L270.2,273.7 L270.9,273.5 L271.6,273.8 L272.3,274.1 L273.0,273.8 L273.7,273.9 L274.4,274.0 L275.1,274.0 L275.8,274.0 L276.5,273.8 L277.2,273.9 L277.9,273.6 L278.6,274.0 L279.3,273.7 L280.0,273.8 L280.7,274.0 L281.4,273.7 L282.1,273.6 L282.8,274.0 L283.5,273.9 L284.2,273.6 L284.9,273.5 L285.6,273.7 L286.3,273.5 L287.0,274.0 L287.7,273.6 L288.4,273.7 L289.1,273.7 L289.8,273.8 L290.5,273.8 L291.2,273.9 L291.9,273.9 L292.6,273.8 L293.3,273.6 L294.0,274.1 L294.7,273.9 L295.4,273.6 L296.1,273.8 L296.8,274.0 L297.5,274.1 L298.2,273.5 L298.9,273.5 L299.6,273.8 L300.3,273.8 L301.0,274.0 L301.7,274.0 L302.4,273.7 L303.1,273.8 L303.8,273.8 L304.5,274.0 L305.2,273.6 L305.9,273.7 L306.6,273.6 L307.3,273.9 L308.0,273.5 L308.7,274.1 L309.4,273.8 L310.1,273.8 L310.8,273.6 L311.5,273.6 L312.2,273.8 L312.9,274.0 L313.6,273.8 L314.3,273.7 L315.0,274.1 L315.7,273.9 L316.4,273.8 L317.1,273.6 L317.8,273.7 L318.5,274.0 L319.2,273.6 L319.9,273.8 L320.6,273.9 L321.3,273.7 L322.0,274.0 L322.7,274.0 L323.4,274.0 L324.1,273.9 L324.8,273.6 L325.5,273.5 L326.2,273.8 L326.9,273.7 L327.6,273.6 L328.3,274.0 L329.0,273.6 L329.7,274.0 L330.4,274.1 L331.1,273.6 L331.8,274.0 L332.5,273.7 L333.2,273.6 L333.9,273.6 L334.6,273.5 L335.3,273.8 L336.0,273.7 L336.7,274.0 L337.4,274.0 L338.1,273.5 L338.8,273.7 L339.5,273.7 L340.2,273.6 L340.9,273.7 L341.6,273.7 L342.3,273.9 L343.0,273.7 L343.7,273.6 L344.4,273.6 L345.1,273.8 L345.8,273.8 L346.5,273.6 L347.2,273.9 L347.9,273.6 L348.6,273.9 L349.3,273.9 L350.0,273.6 L350.7,274.0 L351.4,273.7 L352.1,273.8 L352.8,273.9 L353.5,273.9 L354.2,273.8 L354.9,273.5 L355.6,274.0 L356.3,274.0 L357.0,273.8 L357.7,273.8 L358.4,273.7 L359.1,274.0 L359.8,273.9 L360.5,273.6 L361.2,274.0 L361.9,274.1 L362.6,273.7 L363.3,274.1 L364.0,273.8 L364.7,273.6 L365.4,273.9 L366.1,273.7 L366.8,273.9 L367.5,273.9 L368.2,273.6 L368.9,273.8 L369.6,274.0 L370.3,273.8 L371.0,273.8 L371.7,274.0 L372.4,273.8 L373.1,273.8 L373.8,273.8 L374.5,274.0 L375.2,273.6 L375.9,273.6 L376.6,274.0 L377.3,273.8 L378.0,273.7 L378.7,274.0 L379.4,274.0 L380.1,273.8 L380.8,274.1 L381.5,274.0 L382.2,273.9 L382.9,273.7 L383.6,273.5 L384.3,273.9 L385.0,273.9 L385.7,273.7 L386.4,273.8 L387.1,273.8 L387.8,273.6 L388.5,273.9 L389.2,273.8 L389.9,273.7 L390.6,273.6 L391.3,273.8 L392.0,273.7 L392.7,273.9 L393.4,273.6 L394.1,273.7 L394.8,273.6 L395.5,273.7 L396.2,273.8 L396.9,273.6 L397.6,273.5 L398.3,273.8 L399.0,273.6 L399.7,273.8 L400.4,273.6 L401.1,273.6 L401.8,273.8 L402.5,274.1 L403.2,274.0 L403.9,273.8 L404.6,273.7 L405.3,273.5 L406.0,273.7 L406.7,273.7 L407.4,274.1 L408.1,273.6 L408.8,274.1 L409.5,273.8 L410.2,273.8 L410.9,273.7 L411.6,274.1 L412.3,273.6 L413.0,273.8 L413.7,273.8 L414.4,273.6 L415.1,273.6 L415.8,274.1 L416.5,274.0 L417.2,273.9 L417.9,274.0 L418.6,273.6 L419.3,273.9 L420.0,274.0 L420.7,273.6 L421.4,273.8 L422.1,274.1 L422.8,273.7 L423.5,274.0 L424.2,273.6 L424.9,273.9 L425.6,273.7 L426.3,273.8 L427.0,273.7 L427.7,274.0 L428.4,273.9 L429.1,273.8 L429.8,273.9 L430.5,273.8 L431.2,274.0 L431.9,273.7 L432.6,273.8 L433.3,273.9 L434.0,273.7 L434.7,273.5 L435.4,273.6 L436.1,273.9 L436.8,273.6 L437.5,274.0 L438.2,273.8 L438.9,274.1 L439.6,274.0 L440.3,273.9 L441.0,273.7 L441.7,273.5 L442.4,273.8 L443.1,273.9 L443.8,274.1 L444.5,273.6 L445.2,273.6 L445.9,274.1 L446.6,273.9 L447.3,273.8 L448.0,273.9 L448.7,273.6 L449.4,273.8 L450.1,273.9 L450.8,273.9 L451.5,273.6 L452.2,273.6 L452.9,273.9 L453.6,274.0 L454.3,273.6 L455.0,273.5 L455.7,273.5 L456.4,274.0 L457.1,273.7 L457.8,273.8 L458.5,274.1 L459.2,273.9 L459.9,273.7 L460.6,273.9 L461.3,273.5 L462.0,273.7 L462.7,273.9 L463.4,273.6 L464.1,273.5 L464.8,273.8 L465.5,273.7 L466.2,274.1 L466.9,273.6 L467.6,274.0 L468.3,273.7 L469.0,274.0 L469.7,273.8 L470.4,273.9 L471.1,273.7 L471.8,273.6 L472.5,273.8 L473.2,274.0 L473.9,273.7 L474.6,273.6 L475.3,273.7 L476.0,273.6 L476.7,273.7 L477.4,273.8 L478.1,273.8 L478.8,273.9 L479.5,273.7 L480.2,273.5 L480.9,273.5 L481.6,273.7 L482.3,273.6 L483.0,273.8 L483.7,273.7 L484.4,274.0 L485.1,273.9 L485.8,273.9 L486.5,273.9 L487.2,273.8 L487.9,273.8 L488.6,273.7 L489.3,273.5 L490.0,274.0 L490.7,273.8 L491.4,273.6 L492.1,274.1 L492.8,273.8 L493.5,273.9 L494.2,273.8 L494.9,273.6 L495.6,274.1 L496.3,273.6 L497.0,273.7 L497.7,274.1 L498.4,273.6 L499.1,273.8 L499.8,273.8 L500.5,273.6 L501.2,274.1 L501.9,273.7 L502.6,273.5 L503.3,273.8 L504.0,273.5 L504.7,273.9 L505.4,274.0 L506.1,274.0 L506.8,273.5 L507.5,273.9 L508.2,273.7 L508.9,273.8 L509.6,273.7 L510.3,273.7 L511.0,273.6 L511.7,273.9 L512.4,273.6 L513.1,274.1 L513.8,273.5 L514.5,274.1 L515.2,273.6 L515.9,273.6 L516.6,273.9 L517.3,273.8 L518.0,274.0 L518.7,273.8 L519.4,273.9 L520.1,273.5 L520.8,273.9 L521.5,273.8 L522.2,274.1 L522.9,273.5 L523.6,273.5 L524.3,273.9 L525.0,274.1 L525.7,273.8 L526.4,273.9 L527.1,273.8 L527.8,273.7 L528.5,273.8 L529.2,273.9 L529.9,273.5 L530.6,273.7 L531.3,273.9 L532.0,273.7 L532.7,273.8 L533.4,273.7 L534.1,273.7 L534.8,273.9 L535.5,273.9 L536.2,274.1 L536.9,273.8 L537.6,273.6 L538.3,273.7 L539.0,273.5 L539.7,273.6 L540.4,273.9 L541.1,273.9 L541.8,273.6 L542.5,273.6 L543.2,273.6 L543.9,273.6 L544.6,273.8 L545.3,273.7 L546.0,274.0 L546.7,273.8 L547.4,273.7 L548.1,273.8 L548.8,273.5 L549.5,273.9 L550.2,274.0 L550.9,273.7 L551.6,273.9 L552.3,273.7" fill="none" stroke="#ff7f0e" stroke-width="2.3" stroke-linejoin="round" clip-path="url(#c2)"/><path d="M35.0,279.2 L35.3,268.6 L35.3,268.3 L36.3,268.3 L37.3,268.3 L38.3,268.7 L39.3,268.7 L40.3,268.8 L41.3,268.2 L42.3,268.9 L43.3,268.6 L44.3,268.5 L45.3,268.6 L46.3,268.5 L47.3,268.3 L48.3,268.5 L49.3,268.7 L50.3,268.8 L51.3,269.0 L52.3,268.3 L53.3,269.0 L54.3,268.9 L55.3,268.8 L56.6,268.6 L56.6,279.2 L56.6,279.2 L57.6,279.2 L58.6,279.2 L59.6,279.2 L60.6,279.2 L61.6,279.2 L62.6,279.2 L63.6,279.2 L64.6,279.2 L65.6,279.2 L66.6,279.2 L67.6,279.2 L68.6,279.2 L69.6,279.2 L70.6,279.2 L71.6,279.2 L72.6,279.2 L73.6,279.2 L74.6,279.2 L75.6,279.2 L76.6,279.2 L78.0,279.2 L78.0,268.6 L78.0,269.1 L79.0,268.2 L80.0,268.9 L81.0,269.0 L82.0,268.2 L83.0,268.7 L84.0,269.0 L85.0,268.4 L86.0,269.0 L87.0,269.0 L88.0,268.5 L89.0,268.2 L90.0,268.3 L91.0,268.9 L92.0,268.5 L93.0,268.4 L94.0,268.5 L95.0,269.0 L96.0,268.4 L97.0,268.1 L98.0,269.0 L99.5,268.6 L99.5,279.2 L99.5,279.2 L100.5,279.2 L101.5,279.2 L102.5,279.2 L103.5,279.2 L104.5,279.2 L105.5,279.2 L106.5,279.2 L107.5,279.2 L108.5,279.2 L109.5,279.2 L110.5,279.2 L111.5,279.2 L112.5,279.2 L113.5,279.2 L114.5,279.2 L115.5,279.2 L116.5,279.2 L117.5,279.2 L118.5,279.2 L119.5,279.2 L120.9,279.2 L120.9,268.6 L120.9,268.4 L121.9,268.5 L122.9,269.1 L123.9,268.4 L124.9,268.2 L125.9,269.0 L126.9,268.3 L127.9,268.3 L128.9,269.0 L129.9,268.3 L130.9,269.0 L131.9,268.4 L132.9,268.4 L133.9,268.3 L134.9,268.6 L135.9,268.7 L136.9,268.5 L137.9,268.6 L138.9,268.4 L139.9,268.9 L140.9,269.0 L142.4,268.6 L142.4,279.2 L142.4,279.2 L143.4,279.2 L144.4,279.2 L145.4,279.2 L146.4,279.2 L147.4,279.2 L148.4,279.2 L149.4,279.2 L150.4,279.2 L151.4,279.2 L152.4,279.2 L153.4,279.2 L154.4,279.2 L155.4,279.2 L156.4,279.2 L157.4,279.2 L158.4,279.2 L159.4,279.2 L160.4,279.2 L161.4,279.2 L162.4,279.2 L163.8,279.2 L163.8,268.6 L163.8,268.9 L164.8,268.9 L165.8,268.2 L166.8,268.4 L167.8,268.3 L168.8,268.3 L169.8,269.1 L170.8,269.0 L171.8,269.0 L172.8,268.7 L173.8,268.2 L174.8,268.5 L175.8,268.2 L176.8,269.0 L177.8,268.4 L178.8,268.4 L179.8,269.0 L180.8,268.3 L181.8,269.0 L182.8,268.4 L183.8,268.8 L185.3,268.6 L185.3,279.2 L185.3,279.2 L186.3,279.2 L187.3,279.2 L188.3,279.2 L189.3,279.2 L190.3,279.2 L191.3,279.2 L192.3,279.2 L193.3,279.2 L194.3,279.2 L195.3,279.2 L196.3,279.2 L197.3,279.2 L198.3,279.2 L199.3,279.2 L200.3,279.2 L201.3,279.2 L202.3,279.2 L203.3,279.2 L204.3,279.2 L205.3,279.2 L206.7,279.2 L206.7,268.6 L206.7,268.2 L207.7,269.0 L208.7,268.5 L209.7,268.4 L210.7,268.8 L211.7,268.7 L212.7,268.4 L213.7,268.2 L214.7,268.7 L215.7,268.1 L216.7,269.0 L217.7,268.4 L218.7,268.3 L219.7,268.4 L220.7,268.2 L221.7,268.4 L222.7,268.6 L223.7,268.5 L224.7,268.4 L225.7,268.4 L226.7,268.6 L228.2,268.6 L228.2,279.2 L228.2,279.2 L229.2,279.2 L230.2,279.2 L231.2,279.2 L232.2,279.2 L233.2,279.2 L234.2,279.2 L235.2,279.2 L236.2,279.2 L237.2,279.2 L238.2,279.2 L239.2,279.2 L240.2,279.2 L241.2,279.2 L242.2,279.2 L243.2,279.2 L244.2,279.2 L245.2,279.2 L246.2,279.2 L247.2,279.2 L248.2,279.2 L249.6,279.2 L249.6,268.6 L249.6,268.9 L250.6,268.5 L251.6,268.9 L252.6,268.6 L253.6,268.2 L254.6,268.3 L255.6,268.9 L256.6,268.6 L257.6,268.5 L258.6,268.6 L259.6,268.9 L260.6,268.5 L261.6,268.5 L262.6,268.5 L263.6,268.1 L264.6,268.6 L265.6,268.6 L266.6,268.6 L267.6,268.6 L268.6,268.6 L269.6,268.8 L271.1,268.6 L271.1,279.2 L271.1,279.2 L272.1,279.2 L273.1,279.2 L274.1,279.2 L275.1,279.2 L276.1,279.2 L277.1,279.2 L278.1,279.2 L279.1,279.2 L280.1,279.2 L281.1,279.2 L282.1,279.2 L283.1,279.2 L284.1,279.2 L285.1,279.2 L286.1,279.2 L287.1,279.2 L288.1,279.2 L289.1,279.2 L290.1,279.2 L291.1,279.2 L292.5,279.2 L292.5,268.6 L292.5,268.3 L293.5,269.1 L294.5,268.2 L295.5,269.0 L296.5,268.3 L297.5,268.9 L298.5,268.4 L299.5,268.2 L300.5,268.6 L301.5,268.9 L302.5,268.9 L303.5,269.0 L304.5,269.1 L305.5,268.2 L306.5,268.5 L307.5,268.2 L308.5,268.9 L309.5,268.6 L310.5,268.8 L311.5,268.9 L312.5,269.1 L314.0,268.6 L314.0,279.2 L314.0,279.2 L315.0,279.2 L316.0,279.2 L317.0,279.2 L318.0,279.2 L319.0,279.2 L320.0,279.2 L321.0,279.2 L322.0,279.2 L323.0,279.2 L324.0,279.2 L325.0,279.2 L326.0,279.2 L327.0,279.2 L328.0,279.2 L329.0,279.2 L330.0,279.2 L331.0,279.2 L332.0,279.2 L333.0,279.2 L334.0,279.2 L335.4,279.2 L335.4,268.6 L335.4,268.8 L336.4,269.0 L337.4,268.6 L338.4,268.2 L339.4,269.0 L340.4,268.2 L341.4,268.2 L342.4,268.9 L343.4,268.4 L344.4,268.8 L345.4,268.1 L346.4,268.3 L347.4,268.8 L348.4,268.1 L349.4,268.6 L350.4,269.0 L351.4,268.3 L352.4,268.8 L353.4,268.8 L354.4,268.7 L355.4,268.9 L356.4,268.8 L356.9,268.6 L356.9,279.2 L356.9,279.2 L357.9,279.2 L358.9,279.2 L359.9,279.2 L360.9,279.2 L361.9,279.2 L362.9,279.2 L363.9,279.2 L364.9,279.2 L365.9,279.2 L366.9,279.2 L367.9,279.2 L368.9,279.2 L369.9,279.2 L370.9,279.2 L371.9,279.2 L372.9,279.2 L373.9,279.2 L374.9,279.2 L375.9,279.2 L376.9,279.2 L378.3,279.2 L378.3,268.6 L378.3,268.1 L379.3,268.3 L380.3,268.6 L381.3,269.1 L382.3,268.3 L383.3,268.7 L384.3,268.2 L385.3,268.9 L386.3,268.5 L387.3,268.6 L388.3,268.8 L389.3,268.2 L390.3,268.8 L391.3,268.9 L392.3,269.0 L393.3,268.4 L394.3,268.3 L395.3,268.3 L396.3,269.0 L397.3,268.5 L398.3,268.5 L399.8,268.6 L399.8,279.2 L399.8,279.2 L400.8,279.2 L401.8,279.2 L402.8,279.2 L403.8,279.2 L404.8,279.2 L405.8,279.2 L406.8,279.2 L407.8,279.2 L408.8,279.2 L409.8,279.2 L410.8,279.2 L411.8,279.2 L412.8,279.2 L413.8,279.2 L414.8,279.2 L415.8,279.2 L416.8,279.2 L417.8,279.2 L418.8,279.2 L419.8,279.2 L421.2,279.2 L421.2,268.6 L421.2,268.6 L422.2,268.8 L423.2,268.4 L424.2,268.4 L425.2,268.9 L426.2,268.9 L427.2,268.4 L428.2,268.2 L429.2,269.0 L430.2,268.8 L431.2,268.7 L432.2,268.5 L433.2,269.1 L434.2,268.5 L435.2,268.3 L436.2,268.2 L437.2,268.5 L438.2,268.7 L439.2,268.5 L440.2,269.0 L441.2,268.7 L442.7,268.6 L442.7,279.2 L442.7,279.2 L443.7,279.2 L444.7,279.2 L445.7,279.2 L446.7,279.2 L447.7,279.2 L448.7,279.2 L449.7,279.2 L450.7,279.2 L451.7,279.2 L452.7,279.2 L453.7,279.2 L454.7,279.2 L455.7,279.2 L456.7,279.2 L457.7,279.2 L458.7,279.2 L459.7,279.2 L460.7,279.2 L461.7,279.2 L462.7,279.2 L464.1,279.2 L464.1,268.6 L464.1,268.6 L465.1,268.8 L466.1,268.7 L467.1,268.7 L468.1,268.6 L469.1,268.6 L470.1,268.6 L471.1,268.9 L472.1,268.3 L473.1,268.9 L474.1,268.4 L475.1,268.9 L476.1,268.2 L477.1,268.6 L478.1,268.5 L479.1,268.8 L480.1,268.3 L481.1,268.4 L482.1,268.2 L483.1,268.7 L484.1,268.7 L485.1,268.1 L485.6,268.6 L485.6,279.2 L485.6,279.2 L486.6,279.2 L487.6,279.2 L488.6,279.2 L489.6,279.2 L490.6,279.2 L491.6,279.2 L492.6,279.2 L493.6,279.2 L494.6,279.2 L495.6,279.2 L496.6,279.2 L497.6,279.2 L498.6,279.2 L499.6,279.2 L500.6,279.2 L501.6,279.2 L502.6,279.2 L503.6,279.2 L504.6,279.2 L505.6,279.2 L507.0,279.2 L507.0,268.6 L507.0,268.3 L508.0,268.3 L509.0,269.1 L510.0,268.6 L511.0,268.7 L512.0,268.4 L513.0,268.8 L514.0,268.9 L515.0,268.8 L516.0,268.1 L517.0,268.5 L518.0,268.6 L519.0,268.1 L520.0,268.9 L521.0,268.4 L522.0,268.4 L523.0,268.7 L524.0,268.7 L525.0,268.6 L526.0,269.0 L527.0,268.6 L528.5,268.6 L528.5,279.2 L528.5,279.2 L529.5,279.2 L530.5,279.2 L531.5,279.2 L532.5,279.2 L533.5,279.2 L534.5,279.2 L535.5,279.2 L536.5,279.2 L537.5,279.2 L538.5,279.2 L539.5,279.2 L540.5,279.2 L541.5,279.2 L542.5,279.2 L543.5,279.2 L544.5,279.2 L545.5,279.2 L546.5,279.2 L547.5,279.2 L548.5,279.2 L549.9,279.2 L549.9,268.6 L551.0,268.6" fill="none" stroke="#2ca02c" stroke-width="2.3" stroke-linejoin="round" clip-path="url(#c2)"/><rect x="35.4" y="212.3" width="514.0" height="67.19999999999999" fill="none" stroke="#858585" stroke-width="1.3"/><line x1="69.85" y1="279.5" x2="69.85" y2="282.1" stroke="#858585" stroke-width="1.3"/><text x="62.18" y="291.80" font-size="10.89" textLength="15.88" lengthAdjust="spacingAndGlyphs" fill="#000">2.6</text><line x1="141.32" y1="279.5" x2="141.32" y2="282.1" stroke="#858585" stroke-width="1.3"/><text x="133.65" y="291.80" font-size="10.89" textLength="15.86" lengthAdjust="spacingAndGlyphs" fill="#000">2.8</text><line x1="212.79" y1="279.5" x2="212.79" y2="282.1" stroke="#858585" stroke-width="1.3"/><text x="205.26" y="291.80" font-size="10.89" textLength="15.67" lengthAdjust="spacingAndGlyphs" fill="#000">3.0</text><line x1="284.26" y1="279.5" x2="284.26" y2="282.1" stroke="#858585" stroke-width="1.3"/><text x="276.73" y="291.80" font-size="10.89" textLength="15.80" lengthAdjust="spacingAndGlyphs" fill="#000">3.2</text><line x1="355.73" y1="279.5" x2="355.73" y2="282.1" stroke="#858585" stroke-width="1.3"/><text x="348.20" y="291.80" font-size="10.89" textLength="15.55" lengthAdjust="spacingAndGlyphs" fill="#000">3.4</text><line x1="427.20" y1="279.5" x2="427.20" y2="282.1" stroke="#858585" stroke-width="1.3"/><text x="419.67" y="291.80" font-size="10.89" textLength="15.73" lengthAdjust="spacingAndGlyphs" fill="#000">3.6</text><line x1="498.67" y1="279.5" x2="498.67" y2="282.1" stroke="#858585" stroke-width="1.3"/><text x="491.14" y="291.80" font-size="10.89" textLength="15.72" lengthAdjust="spacingAndGlyphs" fill="#000">3.8</text><line x1="32.8" y1="279.50" x2="35.4" y2="279.50" stroke="#858585" stroke-width="1.3"/><text x="24.49" y="283.80" font-size="11.03" textLength="5.82" lengthAdjust="spacingAndGlyphs" fill="#000">0</text><line x1="32.8" y1="257.10" x2="35.4" y2="257.10" stroke="#858585" stroke-width="1.3"/><text x="24.35" y="261.40" font-size="11.03" textLength="6.10" lengthAdjust="spacingAndGlyphs" fill="#000">2</text><line x1="32.8" y1="234.70" x2="35.4" y2="234.70" stroke="#858585" stroke-width="1.3"/><text x="24.67" y="239.00" font-size="11.03" textLength="5.52" lengthAdjust="spacingAndGlyphs" fill="#000">4</text><line x1="32.8" y1="212.30" x2="35.4" y2="212.30" stroke="#858585" stroke-width="1.3"/><text x="24.35" y="216.60" font-size="11.03" textLength="6.03" lengthAdjust="spacingAndGlyphs" fill="#000">6</text><text x="44.70" y="222.30" font-size="9.60" textLength="13.20" lengthAdjust="spacingAndGlyphs" fill="#000" class="sm">(c)</text><line x1="69.85" y1="311.65" x2="69.85" y2="379.3" stroke="#dcdcdc" stroke-width="1.5"/><line x1="141.32" y1="311.65" x2="141.32" y2="379.3" stroke="#dcdcdc" stroke-width="1.5"/><line x1="212.79" y1="311.65" x2="212.79" y2="379.3" stroke="#dcdcdc" stroke-width="1.5"/><line x1="284.26" y1="311.65" x2="284.26" y2="379.3" stroke="#dcdcdc" stroke-width="1.5"/><line x1="355.73" y1="311.65" x2="355.73" y2="379.3" stroke="#dcdcdc" stroke-width="1.5"/><line x1="427.20" y1="311.65" x2="427.20" y2="379.3" stroke="#dcdcdc" stroke-width="1.5"/><line x1="498.67" y1="311.65" x2="498.67" y2="379.3" stroke="#dcdcdc" stroke-width="1.5"/><line x1="35.4" y1="362.59" x2="549.4" y2="362.59" stroke="#dcdcdc" stroke-width="1.5"/><line x1="35.4" y1="342.21" x2="549.4" y2="342.21" stroke="#dcdcdc" stroke-width="1.5"/><line x1="35.4" y1="321.84" x2="549.4" y2="321.84" stroke="#dcdcdc" stroke-width="1.5"/><clipPath id="c3"><rect x="35" y="311.65" width="514.5" height="67.65000000000003"/></clipPath><path d="M35.0,367.2 L39.5,372.2 L43.0,371.0 L46.5,374.9 L50.0,373.1 L57.5,358.7 L60.8,367.4 L64.0,367.0 L70.5,374.3 L75.2,375.0 L81.7,359.1 L85.8,364.8 L89.1,364.3 L93.5,369.3 L95.0,367.8 L103.7,369.3 L107.0,367.4 L110.5,375.2 L114.5,370.1 L118.0,375.5 L122.0,372.5 L128.7,360.7 L136.0,370.5 L140.0,367.2 L143.5,378.1 L150.5,364.2 L154.0,365.4 L157.0,372.5 L160.0,373.7 L164.5,373.5 L170.0,369.0 L171.5,361.3 L176.0,365.4 L179.0,369.0 L182.5,364.2 L186.0,373.7 L189.5,376.0 L193.0,364.8 L197.0,371.7 L201.0,368.4 L204.0,367.2 L207.5,374.9 L211.0,371.3 L214.0,371.9 L222.0,360.1 L228.5,375.5 L233.0,374.9 L236.5,368.4 L240.0,369.0 L244.0,372.5 L250.0,375.5 L254.0,370.1 L258.0,365.8 L261.0,364.2 L264.5,366.6 L268.0,363.1 L271.5,371.3 L275.0,373.7 L279.0,368.4 L283.0,369.5 L293.0,377.8 L297.0,375.5 L303.5,361.9 L307.5,366.6 L311.0,361.3 L318.0,371.9 L322.0,372.5 L325.5,374.9 L329.0,366.6 L332.5,371.9 L337.0,371.9 L340.0,371.3 L343.0,360.7 L350.5,371.9 L354.0,363.6 L358.0,367.2 L361.5,374.9 L365.5,374.3 L368.5,367.8 L372.0,375.5 L375.5,373.7 L379.0,376.4 L382.0,373.1 L386.0,374.9 L389.5,363.6 L396.0,364.2 L399.0,365.4 L404.0,377.6 L408.0,372.2 L411.0,373.7 L414.5,367.8 L418.0,374.9 L422.0,366.6 L426.0,371.3 L429.0,372.9 L433.0,366.2 L436.0,365.8 L440.0,363.6 L444.0,365.4 L450.0,378.4 L454.0,371.0 L461.0,371.0 L465.0,364.8 L469.5,369.5 L472.0,373.1 L479.0,363.6 L486.0,366.0 L492.0,373.1 L495.0,376.0 L497.5,376.0 L500.0,370.1 L504.0,371.9 L507.5,367.0 L511.0,372.9 L514.5,367.0 L518.0,371.0 L522.0,362.6 L526.0,364.6 L529.0,369.0 L536.0,369.3 L540.0,373.9 L543.0,377.8 L548.0,371.9 L551.0,369.0" fill="none" stroke="#1f77b4" stroke-width="2.3" stroke-linejoin="round" clip-path="url(#c3)"/><path d="M35.0,360.2 L36.7,353.6 L40.0,352.4 L50.0,359.5 L50.5,356.8 L52.3,353.8 L53.4,357.3 L54.8,352.1 L55.9,356.4 L57.6,354.0 L58.6,356.7 L59.5,352.1 L60.6,357.2 L61.8,351.5 L63.4,355.0 L65.0,351.0 L66.2,354.9 L67.2,352.6 L68.7,348.3 L70.0,351.6 L70.5,355.4 L79.5,357.7 L80.0,357.6 L81.6,355.1 L82.5,357.8 L83.4,353.0 L84.9,356.0 L86.0,351.9 L87.7,356.8 L88.9,352.4 L90.6,354.2 L92.3,348.4 L94.1,347.7 L95.6,370.7 L97.5,358.9 L99.0,357.5 L107.0,355.4 L107.5,359.2 L109.3,354.0 L110.5,357.1 L111.6,352.7 L112.7,355.1 L114.1,352.3 L115.6,355.5 L116.5,369.0 L118.0,361.3 L118.5,359.4 L119.4,356.7 L120.5,360.2 L122.0,353.2 L123.3,357.9 L124.5,354.9 L126.3,353.6 L127.0,358.3 L137.0,349.5 L140.5,368.4 L142.0,357.7 L143.0,358.8 L144.2,354.7 L145.5,358.6 L147.0,353.7 L148.0,356.3 L149.8,353.1 L151.4,356.1 L153.1,352.1 L154.3,354.8 L155.0,354.2 L166.0,361.3 L166.5,359.0 L168.0,353.9 L169.5,358.0 L170.9,354.1 L172.6,357.4 L174.2,353.2 L175.9,357.7 L177.8,352.0 L179.2,355.2 L181.1,352.1 L182.7,349.5 L184.0,350.6 L194.0,358.9 L194.5,359.2 L195.8,355.0 L197.4,360.4 L198.4,354.6 L199.5,358.0 L200.5,353.9 L201.4,356.2 L202.5,353.1 L203.9,356.0 L205.4,353.0 L207.5,369.5 L208.5,362.0 L209.8,358.7 L211.1,359.4 L212.1,356.2 L213.0,356.0 L221.0,358.9 L221.5,357.9 L222.8,352.2 L224.1,348.3 L225.6,350.4 L227.1,353.7 L228.0,348.3 L229.2,368.4 L230.0,359.6 L231.8,356.8 L232.9,359.2 L234.2,354.9 L235.7,358.4 L237.1,355.4 L239.0,358.1 L240.4,355.1 L241.7,356.9 L242.0,355.4 L250.0,367.2 L254.0,355.4 L254.5,356.0 L255.7,352.4 L256.8,356.0 L258.7,353.0 L260.1,355.9 L261.7,352.6 L262.9,354.9 L264.1,351.1 L265.4,354.7 L266.3,351.1 L268.0,350.6 L278.0,354.0 L278.5,359.6 L279.4,354.4 L280.9,358.5 L282.3,353.4 L283.6,358.1 L284.8,351.0 L286.5,357.0 L287.7,352.2 L288.7,355.9 L290.1,352.5 L291.6,357.8 L292.7,350.8 L294.0,371.3 L296.0,356.5 L298.0,361.3 L308.0,353.6 L308.5,355.7 L310.4,351.5 L311.3,356.3 L312.9,350.5 L313.9,354.0 L315.0,350.3 L316.0,355.3 L317.0,348.8 L318.0,352.8 L318.5,368.4 L320.0,359.6 L321.2,356.3 L323.1,360.1 L324.7,356.0 L326.1,358.9 L327.6,354.6 L328.0,356.0 L336.0,351.8 L337.4,369.5 L339.0,358.0 L340.0,358.8 L341.0,355.2 L342.7,357.0 L344.2,354.8 L345.2,356.3 L346.4,352.6 L347.6,359.1 L349.2,353.8 L351.1,356.2 L352.1,351.1 L353.8,354.3 L355.0,352.0 L356.0,353.0 L365.0,360.1 L365.5,358.7 L366.5,354.7 L368.2,358.3 L369.7,354.6 L371.3,358.8 L372.2,354.1 L374.0,357.3 L374.9,353.8 L376.4,356.6 L377.4,354.0 L378.7,356.1 L379.8,353.3 L380.8,355.4 L382.5,369.5 L394.0,355.4 L394.5,356.1 L395.8,352.3 L397.3,356.0 L398.4,351.9 L399.9,355.5 L401.0,352.3 L402.0,354.0 L403.3,350.8 L404.5,367.8 L406.0,362.6 L407.1,358.3 L408.9,359.9 L411.0,356.5 L422.0,353.6 L425.0,348.3 L426.5,371.3 L428.0,358.0 L428.5,357.2 L430.2,353.0 L431.6,358.1 L432.9,353.5 L434.7,356.2 L435.6,352.2 L436.9,354.6 L438.2,351.2 L439.2,356.0 L440.6,351.4 L441.0,353.0 L451.0,365.4 L452.0,361.3 L453.4,356.0 L455.2,360.1 L456.6,356.1 L457.9,359.4 L459.7,355.7 L461.5,358.4 L462.7,355.4 L464.4,357.0 L465.4,353.4 L466.7,357.0 L467.7,351.0 L468.8,355.8 L469.8,352.8 L470.0,371.3 L481.0,353.6 L481.5,356.9 L483.1,352.2 L484.4,356.4 L486.3,351.2 L487.4,355.3 L488.4,351.8 L489.6,354.2 L490.6,349.5 L491.5,352.2 L492.8,348.5 L493.5,368.4 L495.0,363.6 L496.0,357.7 L506.0,357.1 L507.0,358.1 L508.3,354.1 L509.7,358.2 L510.7,353.6 L512.4,356.2 L514.0,353.1 L515.5,369.0 L517.0,358.6 L518.3,354.2 L519.8,358.6 L520.8,353.1 L521.7,360.0 L523.2,352.8 L524.5,355.0 L525.6,351.6 L527.0,352.8 L537.0,352.8 L537.3,349.3 L540.0,354.7 L542.0,369.0 L545.0,355.2 L551.0,359.6" fill="none" stroke="#ff7f0e" stroke-width="2.3" stroke-linejoin="round" clip-path="url(#c3)"/><rect x="35.4" y="311.65" width="514.0" height="67.65000000000003" fill="none" stroke="#858585" stroke-width="1.3"/><line x1="69.85" y1="379.3" x2="69.85" y2="381.90000000000003" stroke="#858585" stroke-width="1.3"/><text x="62.18" y="391.60" font-size="10.89" textLength="15.88" lengthAdjust="spacingAndGlyphs" fill="#000">2.6</text><line x1="141.32" y1="379.3" x2="141.32" y2="381.90000000000003" stroke="#858585" stroke-width="1.3"/><text x="133.65" y="391.60" font-size="10.89" textLength="15.86" lengthAdjust="spacingAndGlyphs" fill="#000">2.8</text><line x1="212.79" y1="379.3" x2="212.79" y2="381.90000000000003" stroke="#858585" stroke-width="1.3"/><text x="205.26" y="391.60" font-size="10.89" textLength="15.67" lengthAdjust="spacingAndGlyphs" fill="#000">3.0</text><line x1="284.26" y1="379.3" x2="284.26" y2="381.90000000000003" stroke="#858585" stroke-width="1.3"/><text x="276.73" y="391.60" font-size="10.89" textLength="15.80" lengthAdjust="spacingAndGlyphs" fill="#000">3.2</text><line x1="355.73" y1="379.3" x2="355.73" y2="381.90000000000003" stroke="#858585" stroke-width="1.3"/><text x="348.20" y="391.60" font-size="10.89" textLength="15.55" lengthAdjust="spacingAndGlyphs" fill="#000">3.4</text><line x1="427.20" y1="379.3" x2="427.20" y2="381.90000000000003" stroke="#858585" stroke-width="1.3"/><text x="419.67" y="391.60" font-size="10.89" textLength="15.73" lengthAdjust="spacingAndGlyphs" fill="#000">3.6</text><line x1="498.67" y1="379.3" x2="498.67" y2="381.90000000000003" stroke="#858585" stroke-width="1.3"/><text x="491.14" y="391.60" font-size="10.89" textLength="15.72" lengthAdjust="spacingAndGlyphs" fill="#000">3.8</text><line x1="32.8" y1="362.59" x2="35.4" y2="362.59" stroke="#858585" stroke-width="1.3"/><text x="24.50" y="366.89" font-size="11.03" textLength="5.87" lengthAdjust="spacingAndGlyphs" fill="#000">3</text><line x1="32.8" y1="342.21" x2="35.4" y2="342.21" stroke="#858585" stroke-width="1.3"/><text x="24.67" y="346.51" font-size="11.03" textLength="5.52" lengthAdjust="spacingAndGlyphs" fill="#000">4</text><line x1="32.8" y1="321.84" x2="35.4" y2="321.84" stroke="#858585" stroke-width="1.3"/><text x="24.48" y="326.14" font-size="11.03" textLength="5.87" lengthAdjust="spacingAndGlyphs" fill="#000">5</text><text x="44.73" y="321.65" font-size="9.60" textLength="13.13" lengthAdjust="spacingAndGlyphs" fill="#000" class="sm">(d)</text><text transform="translate(9.00,179.96) rotate(-90)" x="0" y="0" font-size="12.60" textLength="67.75" lengthAdjust="spacingAndGlyphs" fill="#000">WMHD [MJ]</text><text transform="translate(18.40,261.36) rotate(-90)" x="0" y="0" font-size="12.70" textLength="31.41" lengthAdjust="spacingAndGlyphs" fill="#000">[MW]</text><text transform="translate(18.40,361.41) rotate(-90)" x="0" y="0" font-size="12.70" textLength="32.52" lengthAdjust="spacingAndGlyphs" fill="#000">[keV]</text><text transform="translate(12.4,89.5) rotate(-90)" x="0" y="0" font-size="12" textLength="84" lengthAdjust="spacingAndGlyphs" fill="#000">n<tspan font-size="8.4" font-style="italic" dy="2">e</tspan><tspan dy="-2"> [1e19 m</tspan><tspan font-size="8.4" dy="-4.5">−3</tspan><tspan dy="4.5">]</tspan></text><text x="269.08" y="404.80" font-size="12.00" textLength="46.54" lengthAdjust="spacingAndGlyphs" fill="#000">time [s]</text><rect x="460.5" y="17.8" width="84.5" height="16.599999999999998" rx="2" ry="2" fill="#fff" fill-opacity="0.8" stroke="#d8d8d8" stroke-width="0.8"/><line x1="463.1" y1="25.5" x2="484" y2="25.5" stroke="#1f77b4" stroke-width="2"/><text x="490.54" y="28.50" font-size="9.80" textLength="9.14" lengthAdjust="spacingAndGlyphs" fill="#000" class="sm">at</text><text x="503.24" y="28.50" font-size="9.80" font-style="italic" fill="#000" class="sm">ρ</text><text x="508.25" y="29.80" font-size="6.86" textLength="9.09" lengthAdjust="spacingAndGlyphs" font-style="italic" fill="#000" class="sm">tor</text><text x="518.26" y="28.50" font-size="9.80" textLength="21.78" lengthAdjust="spacingAndGlyphs" fill="#000" class="sm">=0.1</text><rect x="485.3" y="216.7" width="60.19999999999999" height="44.0" rx="2" ry="2" fill="#fff" fill-opacity="0.8" stroke="#d8d8d8" stroke-width="0.8"/><line x1="488.2" y1="224.4" x2="509" y2="224.4" stroke="#1f77b4" stroke-width="2"/><text x="514.96" y="227.70" font-size="9.80" textLength="17.08" lengthAdjust="spacingAndGlyphs" fill="#000" class="sm">NBI</text><line x1="488.2" y1="238.1" x2="509" y2="238.1" stroke="#ff7f0e" stroke-width="2"/><text x="515.02" y="241.40" font-size="9.80" textLength="27.06" lengthAdjust="spacingAndGlyphs" fill="#000" class="sm">ECRH</text><line x1="488.2" y1="251.6" x2="509" y2="251.6" stroke="#2ca02c" stroke-width="2"/><text x="514.95" y="254.90" font-size="9.80" textLength="21.62" lengthAdjust="spacingAndGlyphs" fill="#000" class="sm">ICRF</text><rect x="447.6" y="316.4" width="97.39999999999998" height="30.0" rx="2" ry="2" fill="#fff" fill-opacity="0.8" stroke="#d8d8d8" stroke-width="0.8"/><line x1="450" y1="324.4" x2="470.4" y2="324.4" stroke="#1f77b4" stroke-width="2"/><text x="477.06" y="327.00" font-size="9.80" textLength="6.69" lengthAdjust="spacingAndGlyphs" fill="#000" class="sm">T</text><text x="484.49" y="328.50" font-size="6.86" font-style="italic" fill="#000" class="sm">i</text><text x="487.64" y="327.00" font-size="9.80" textLength="9.14" lengthAdjust="spacingAndGlyphs" fill="#000" class="sm">at</text><text x="500.64" y="327.00" font-size="9.80" font-style="italic" fill="#000" class="sm">ρ</text><text x="505.65" y="328.30" font-size="6.86" textLength="9.09" lengthAdjust="spacingAndGlyphs" font-style="italic" fill="#000" class="sm">tor</text><text x="515.66" y="327.00" font-size="9.80" textLength="21.78" lengthAdjust="spacingAndGlyphs" fill="#000" class="sm">=0.1</text><line x1="450" y1="338.0" x2="470.4" y2="338.0" stroke="#ff7f0e" stroke-width="2"/><text x="477.06" y="340.60" font-size="9.80" textLength="6.69" lengthAdjust="spacingAndGlyphs" fill="#000" class="sm">T</text><text x="483.07" y="342.10" font-size="6.86" font-style="italic" fill="#000" class="sm">e</text><text x="489.94" y="340.60" font-size="9.80" textLength="9.14" lengthAdjust="spacingAndGlyphs" fill="#000" class="sm">at</text><text x="502.84" y="340.60" font-size="9.80" font-style="italic" fill="#000" class="sm">ρ</text><text x="507.85" y="341.90" font-size="6.86" textLength="9.09" lengthAdjust="spacingAndGlyphs" font-style="italic" fill="#000" class="sm">tor</text><text x="517.86" y="340.60" font-size="9.80" textLength="21.78" lengthAdjust="spacingAndGlyphs" fill="#000" class="sm">=0.1</text></svg>
</body></html>
